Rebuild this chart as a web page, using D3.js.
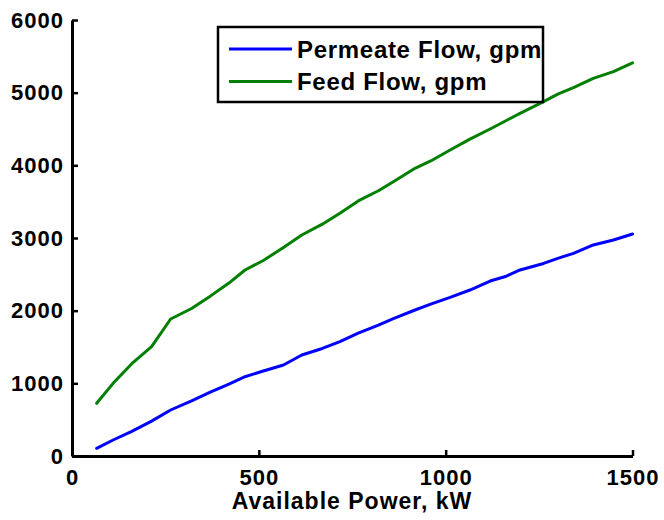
<!DOCTYPE html>
<html><head><meta charset="utf-8">
<script src="https://cdn.jsdelivr.net/npm/d3@7"></script>
<style>
html,body{margin:0;padding:0;background:#fff;}
text{font-family:"Liberation Sans",Arial,sans-serif;font-weight:bold;fill:#000;}
</style></head>
<body>
<svg id="chart" width="664" height="520"></svg>
<script>
const powerKW = [66,110,160,213,264,320,370,420,463,512,566,615,670,717,766,820,860,918,960,1012,1065,1119,1160,1199,1262,1300,1342,1395,1449,1500];
const permeateFlow = [106,220,340,480,633,760,880,990,1091,1170,1252,1390,1480,1573,1690,1800,1890,2009,2090,2184,2284,2408,2470,2560,2650,2720,2789,2904,2972,3055];
const feedFlow = [725,1000,1270,1504,1885,2030,2200,2380,2560,2690,2870,3041,3190,3340,3510,3650,3775,3959,4060,4211,4360,4500,4610,4716,4876,4980,5070,5197,5290,5410];
const xTicks = [0,500,1000,1500];
const yTicks = [0,1000,2000,3000,4000,5000,6000];
const seriesNames = ["Permeate Flow, gpm","Feed Flow, gpm"];
const seriesColors = ["#0000ff","#007f00"];
const xLabel = "Available Power, kW";

const svg = d3.select("#chart");
const x = d3.scaleLinear().domain([0,1500]).range([72,632.5]);
const y = d3.scaleLinear().domain([0,6000]).range([456,20]);

// lines
const series = [permeateFlow, feedFlow];
const line = d3.line().x((d,i)=>x(powerKW[i])).y(d=>y(d));
series.forEach((s,k)=>{
  svg.append("path").datum(s).attr("d",line)
    .attr("fill","none").attr("stroke",seriesColors[k]).attr("stroke-width",3)
    .attr("stroke-linejoin","round").attr("stroke-linecap","round");
});

// axes
const xAxis = d3.axisBottom(x).tickValues(xTicks).tickSizeInner(-6).tickSizeOuter(0).tickFormat(d3.format("d"));
const gx = svg.append("g").attr("transform",`translate(0,${y(0)})`).call(xAxis);
const yAxis = d3.axisLeft(y).tickValues(yTicks).tickSizeInner(-6).tickSizeOuter(0).tickPadding(8).tickFormat(d3.format("d"));
const gy = svg.append("g").attr("transform",`translate(${x(0)},0)`).call(yAxis);
[gx,gy].forEach(g=>{
  g.select(".domain").attr("stroke","#000").attr("stroke-width",3);
  g.selectAll(".tick line").attr("stroke","#000").attr("stroke-width",2.5);
  g.selectAll(".tick text").attr("font-size",22).attr("font-family","Liberation Sans, Arial, sans-serif").attr("font-weight","bold").attr("fill","#000").attr("letter-spacing",1);
});
gx.selectAll(".tick text").attr("y",29).attr("dy",0);

svg.append("text").attr("x",352).attr("y",508.5).attr("text-anchor","middle")
  .attr("font-size",23).attr("letter-spacing",1).text(xLabel);

// legend
const lg = svg.append("g");
lg.append("rect").attr("x",218).attr("y",27).attr("width",325).attr("height",75)
  .attr("fill","#fff").attr("stroke","#000").attr("stroke-width",2.5);
seriesNames.forEach((n,k)=>{
  const yy = 49 + k*32.5;
  lg.append("line").attr("x1",229).attr("x2",292).attr("y1",yy).attr("y2",yy)
    .attr("stroke",seriesColors[k]).attr("stroke-width",3);
  lg.append("text").attr("x",297).attr("y",yy+8.5).attr("font-size",24).attr("letter-spacing",0.7).text(n);
});
</script>
</body></html>
